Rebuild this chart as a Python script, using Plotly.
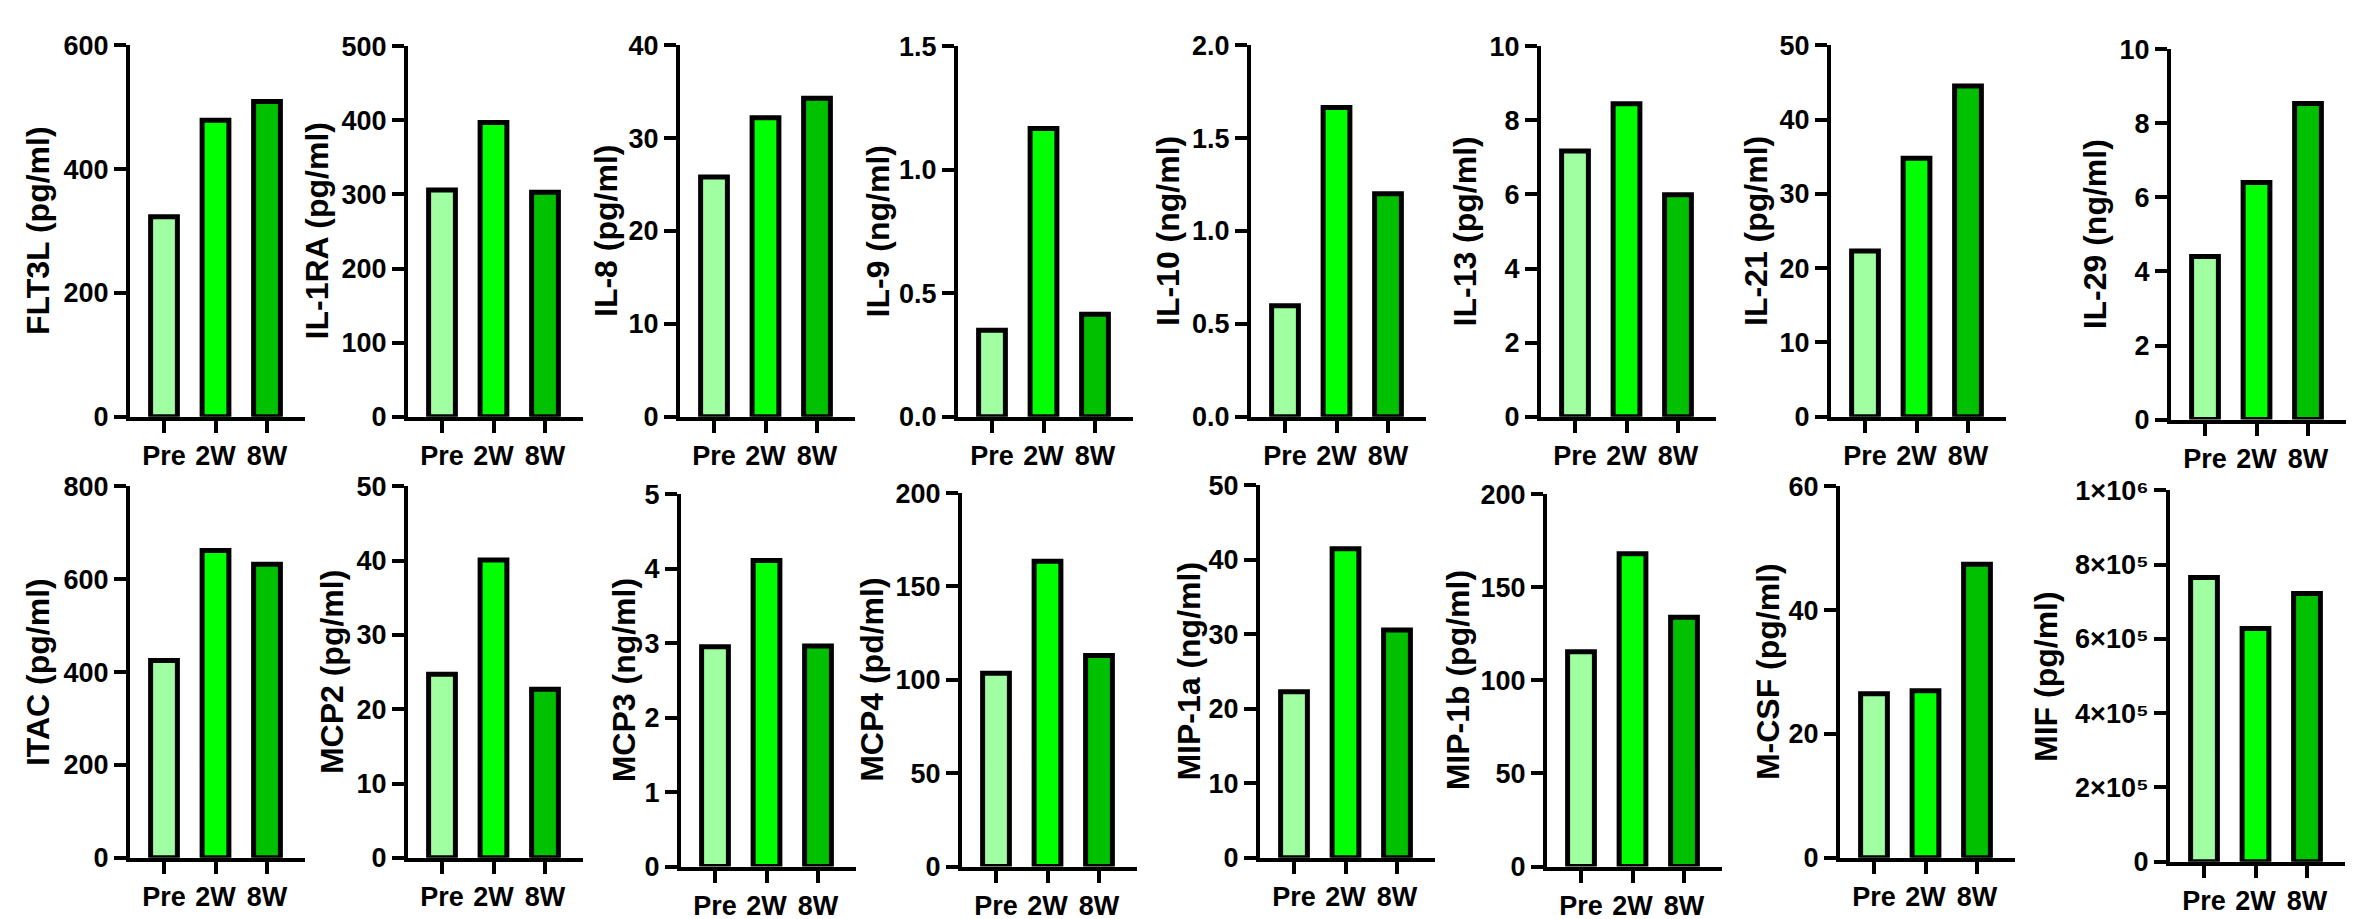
import plotly.graph_objects as go

# ---------------- data ----------------
groups = ["Pre", "2W", "8W"]
bar_colors = ["#A0FFA0", "#00FF00", "#00C000"]

analytes = ["FLT3L", "IL-1RA", "IL-8", "IL-9", "IL-10", "IL-13", "IL-21", "IL-29",
            "ITAC", "MCP2", "MCP3", "MCP4", "MIP-1a", "MIP-1b", "M-CSF", "MIF"]
units = ["pg/ml", "pg/ml", "pg/ml", "ng/ml", "ng/ml", "pg/ml", "pg/ml", "ng/ml",
         "pg/ml", "pg/ml", "ng/ml", "pd/ml", "ng/ml", "pg/ml", "pg/ml", "pg/ml"]

flt3l = [323, 479, 509]
il1ra = [306, 397, 303]
il8 = [25.8, 32.2, 34.3]
il9 = [0.35, 1.167, 0.415]
il10 = [0.597, 1.665, 1.2]
il13 = [7.17, 8.45, 5.99]
il21 = [22.3, 34.8, 44.5]
il29 = [4.40, 6.40, 8.53]
itac = [425, 662, 632]
mcp2 = [24.7, 40.1, 22.7]
mcp3 = [2.95, 4.11, 2.96]
mcp4 = [103.5, 163.5, 113]
mip1a = [22.3, 41.5, 30.6]
mip1b = [115.3, 168, 133.8]
mcsf = [26.5, 27.0, 47.4]
mif = [765000, 628000, 722000]

series = [flt3l, il1ra, il8, il9, il10, il13, il21, il29,
          itac, mcp2, mcp3, mcp4, mip1a, mip1b, mcsf, mif]

y_max = [600, 500, 40, 1.5, 2.0, 10, 50, 10,
         800, 50, 5, 200, 50, 200, 60, 1000000]
y_dtick = [200, 100, 10, 0.5, 0.5, 2, 10, 2,
           200, 10, 1, 50, 10, 50, 20, 200000]
y_fmt = ["d", "d", "d", ".1f", ".1f", "d", "d", "d",
         "d", "d", "d", "d", "d", "d", "d", "d"]

mif_tickvals = [0, 200000, 400000, 600000, 800000, 1000000]
mif_ticktext = ["0", "2×10⁵", "4×10⁵", "6×10⁵", "8×10⁵", "1×10⁶"]

# ---------------- layout (pixel positions) ----------------
W, H = 2361, 919
axis_left = [122, 400, 672, 950, 1243, 1533, 1823, 2163,
             122, 400, 673, 954, 1252, 1539, 1832, 2162]
axis_top = [23, 24, 23, 24, 23, 24, 23, 27,
            479, 479, 487, 486, 478, 487, 479, 483]
axis_zero = [407, 407, 407, 407, 407, 407, 407, 410,
             863, 863, 872, 872, 863, 872, 863, 867]
title_cx = [30, 309, 598, 870, 1160, 1457, 1748, 2087,
            30, 324, 616, 864, 1181, 1450, 1760, 2038]
plot_w = 175
cat_px = 51.5
first_px = 34

FONT = "Liberation Sans, Arial, sans-serif"

fig = go.Figure()
annotations = []
layout = dict(
    width=W, height=H,
    margin=dict(l=0, r=0, t=0, b=0),
    paper_bgcolor="white", plot_bgcolor="white",
    showlegend=False,
    font=dict(family=FONT, color="black"),
)

x0 = -first_px / cat_px
x1 = (plot_w - first_px) / cat_px

for i in range(16):
    n = i + 1
    xa = "x" if n == 1 else f"x{n}"
    ya = "y" if n == 1 else f"y{n}"
    fig.add_trace(go.Bar(
        x=groups, y=series[i],
        xaxis=xa, yaxis=ya,
        width=0.52,
        marker=dict(color=bar_colors, line=dict(color="black", width=5)),
        hoverinfo="x+y",
    ))
    xd = [axis_left[i] / W, (axis_left[i] + plot_w) / W]
    yd = [1 - axis_zero[i] / H, 1 - axis_top[i] / H]
    xkey = "xaxis" if n == 1 else f"xaxis{n}"
    ykey = "yaxis" if n == 1 else f"yaxis{n}"
    layout[xkey] = dict(
        domain=xd, anchor=ya, type="category", range=[x0, x1],
        showline=True, linewidth=4, linecolor="black",
        ticks="outside", ticklen=12, tickwidth=4, tickcolor="black",
        tickfont=dict(size=27, family=FONT, weight="bold", color="black"),
        showgrid=False, zeroline=False, fixedrange=True,
    )
    yax = dict(
        domain=yd, anchor=xa, range=[0, y_max[i]],
        showline=True, linewidth=4, linecolor="black",
        ticks="outside", ticklen=12, tickwidth=4, tickcolor="black",
        tickfont=dict(size=27, family=FONT, weight="bold", color="black"),
        showgrid=False, zeroline=False, fixedrange=True,
    )
    if analytes[i] == "MIF":
        yax.update(tickmode="array", tickvals=mif_tickvals, ticktext=mif_ticktext)
    else:
        yax.update(tickmode="linear", tick0=0, dtick=y_dtick[i], tickformat=y_fmt[i])
    layout[ykey] = yax
    annotations.append(dict(
        text=f"{analytes[i]} ({units[i]})",
        xref="paper", yref="paper",
        x=title_cx[i] / W, y=1 - (axis_top[i] + axis_zero[i]) / 2 / H,
        xanchor="center", yanchor="middle",
        textangle=-90, showarrow=False,
        font=dict(size=32, family=FONT, weight="bold", color="black"),
    ))

layout["annotations"] = annotations
fig.update_layout(**layout)
fig.write_html("out.html")
